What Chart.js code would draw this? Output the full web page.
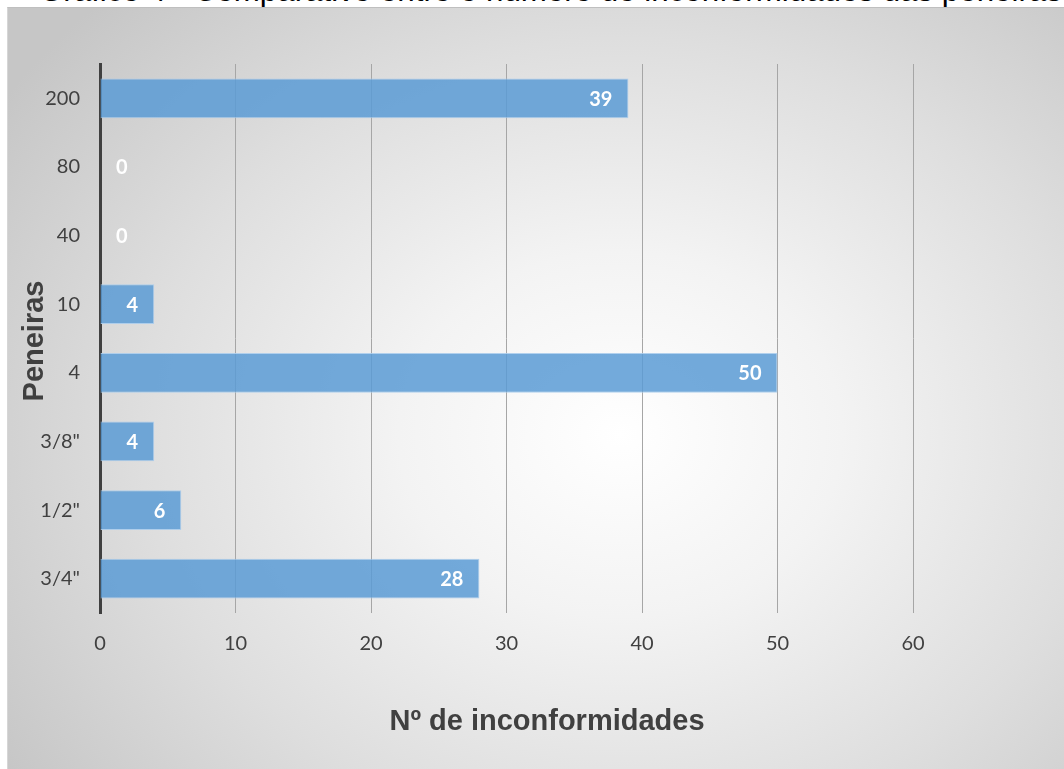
<!DOCTYPE html>
<html>
<head>
<meta charset="utf-8">
<title>Inconformidades por peneira</title>
<script src="https://cdn.jsdelivr.net/npm/chart.js@4.4.0/dist/chart.umd.min.js"></script>
<style>
  html, body { margin: 0; padding: 0; background: #fff; }
  body { width: 1064px; height: 769px; position: relative; overflow: hidden; }
  #legenda {
    position: absolute; left: 39px; top: -25px;
    font: 31.3px/31px "Liberation Sans", Arial, sans-serif;
    color: #000; white-space: nowrap;
  }
  #painel {
    position: absolute; left: 7px; top: 7px; width: 1057px; height: 762px;
    box-sizing: border-box;
    border-top: 1px solid #bfbfbf; border-left: 1px solid #d6d6d6;
    background: radial-gradient(ellipse 70% 80% at 58% 56%, #ffffff 0%, #f3f3f3 30%, #dedede 65%, #c6c6c6 100%);
  }
  #grafico { position: absolute; left: 0; top: 0; }
</style>
</head>
<body>
<div id="legenda">Gráfico 4 - Comparativo entre o número de inconformidades das peneiras</div>
<div id="painel"></div>
<canvas id="grafico" width="1064" height="769"></canvas>
<script>
// peneiras de cima para baixo e respectivas inconformidades
const peneiras = ['200', '80', '40', '10', '4', '3/8"', '1/2"', '3/4"'];
const inconformidades = [39, 0, 0, 4, 50, 4, 6, 28];
const escalaX = [0, 10, 20, 30, 40, 50, 60];

const corTexto = '#404040';

// rótulos de valor dentro da ponta da barra + títulos dos eixos
const rotulos = {
  id: 'rotulos',
  afterDatasetsDraw(chart) {
    const ctx = chart.ctx;
    const meta = chart.getDatasetMeta(0);
    const x = chart.scales.x;
    const base = x.getPixelForValue(0);
    ctx.save();
    ctx.font = 'bold 20px Lato';
    ctx.fillStyle = '#ffffff';
    ctx.textAlign = 'right';
    ctx.textBaseline = 'middle';
    meta.data.forEach((bar, i) => {
      const txt = String(inconformidades[i]);
      const w = ctx.measureText(txt).width;
      const fim = x.getPixelForValue(inconformidades[i]);
      const px = Math.max(fim - 16, base + 16 + w);
      ctx.fillText(txt, px, bar.y + 1);
    });
    ctx.restore();
  },
  afterDraw(chart) {
    const ctx = chart.ctx;
    ctx.save();
    ctx.fillStyle = corTexto;
    ctx.font = 'bold 29px "Liberation Sans", Arial, sans-serif';
    ctx.textAlign = 'center';
    ctx.textBaseline = 'middle';
    ctx.fillText('Nº de inconformidades', 547, 722);
    ctx.translate(35, 341);
    ctx.rotate(-Math.PI / 2);
    ctx.fillText('Peneiras', 0, 0);
    ctx.restore();
  }
};

new Chart(document.getElementById('grafico'), {
  type: 'bar',
  data: {
    labels: peneiras,
    datasets: [{
      data: inconformidades,
      backgroundColor: 'rgba(91,155,213,0.85)',
      borderColor: 'rgba(170,204,236,0.9)',
      borderWidth: 1,
      barPercentage: 0.58,
      categoryPercentage: 1
    }]
  },
  options: {
    indexAxis: 'y',
    responsive: false,
    animation: false,
    layout: { padding: { top: 64, right: 151, left: 0, bottom: 0 } },
    plugins: {
      legend: { display: false },
      tooltip: { enabled: false }
    },
    scales: {
      x: {
        min: escalaX[0],
        max: escalaX[escalaX.length - 1],
        afterFit(s) { s.height = 156; },
        afterBuildTicks(s) { s.ticks = escalaX.map(v => ({ value: v })); },
        grid: {
          color: ctx => ctx.tick && ctx.tick.value === 0 ? 'rgba(0,0,0,0)' : '#a6a6a6',
          lineWidth: 1,
          drawTicks: false
        },
        border: { display: false },
        ticks: {
          color: corTexto,
          font: { family: 'Lato', size: 20 },
          padding: 19
        }
      },
      y: {
        afterFit(s) { s.width = 100; },
        grid: { display: false },
        border: { display: true, color: '#404040', width: 3 },
        ticks: {
          color: corTexto,
          font: { family: 'Lato', size: 20 },
          padding: 12
        }
      }
    }
  },
  plugins: [rotulos]
});
</script>
</body>
</html>
